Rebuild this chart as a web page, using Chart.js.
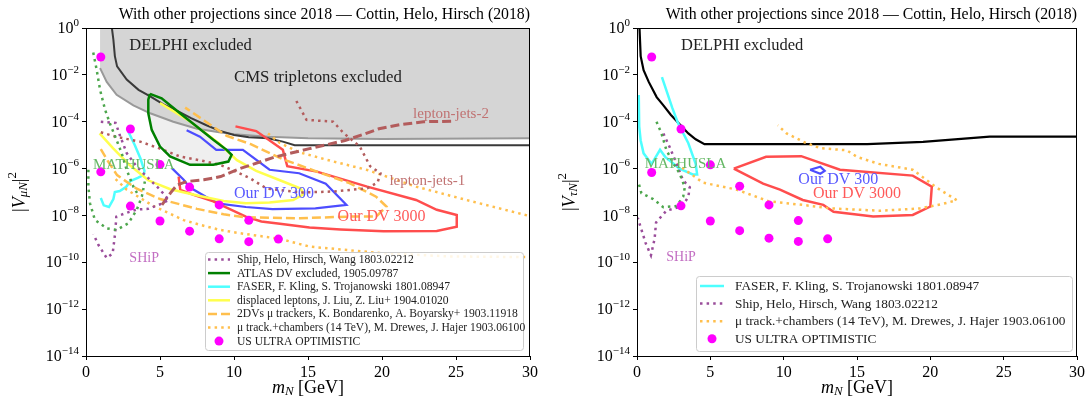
<!DOCTYPE html>
<html>
<head>
<meta charset="utf-8">
<script src="https://cdn.jsdelivr.net/npm/chart.js@4/dist/chart.umd.min.js"></script>
<style>
    html, body { margin: 0; padding: 0; background: #ffffff; }
    #wrap { position: relative; width: 1088px; height: 403px; }
    canvas { position: absolute; top: 0; }
</style>
</head>
<body>
<div id="wrap">
    <canvas id="muChart" width="544" height="403" style="left:0"></canvas>
    <canvas id="tauChart" width="544" height="403" style="left:544px"></canvas>
</div>
<script>
// Every curve is a list of [m_N in GeV, log10 |V|^2] pairs.

const xTickValues = [0, 5, 10, 15, 20, 25, 30];
const yTickExponents = [-14, -12, -10, -8, -6, -4, -2, 0];

const titleText = 'With other projections since 2018 \u2014 Cottin, Helo, Hirsch (2018)';

// US ULTRA OPTIMISTIC points
const optimisticMass = [1, 1, 3, 3, 5, 5, 7, 7, 9, 9, 11, 11, 13];
const optimisticMuExp = [-1.24, -6.14, -4.31, -7.6, -5.83, -8.24, -6.79, -8.67, -7.55, -9.0, -8.21, -9.12, -9.01];
const optimisticTauExp = [-1.24, -6.17, -4.31, -7.59, -5.84, -8.24, -6.75, -8.65, -7.55, -8.97, -8.22, -9.11, -9.0];

// ---- muon panel ----
const cmsMu = [[0.95, -1.71], [1.4, -2.3], [2.07, -2.85], [3.2, -3.3], [4.34, -3.64], [5.9, -4.0], [7.5, -4.3],
    [9, -4.45], [10, -4.53], [12.3, -4.64], [15, -4.71], [20, -4.74], [30, -4.71]];
const delphiMu = [[1.75, 0], [1.85, -0.5], [1.95, -1.2], [2.1, -1.64], [2.75, -2.2], [3.55, -2.64], [4.34, -2.92],
    [5.2, -3.25], [6.2, -3.55], [7.1, -3.85], [8.1, -4.14], [9.0, -4.38], [10, -4.57], [11, -4.66], [12.3, -4.71],
    [13.3, -4.85], [14.1, -5.0], [30, -5.0]];
const atlasDV = [[4.32, -2.81], [5.11, -3.0], [6.35, -3.64], [7.48, -4.2], [8.6, -4.77], [9.5, -5.2], [9.84, -5.41],
    [9.62, -5.7], [8.6, -5.84], [7.03, -5.84], [5.68, -5.48], [5.0, -5.06], [4.44, -4.35], [4.21, -3.64],
    [4.21, -3.06], [4.32, -2.81]];
const dv300Mu = [[6.8, -4.36], [7.7, -4.64], [8.8, -5.2], [10.6, -5.2], [12.4, -6.05], [14.4, -6.2], [16.2, -6.65],
    [17.6, -7.55], [15.5, -7.7], [12.6, -7.73], [10.8, -7.64], [9.0, -7.5], [8.1, -7.2], [7.0, -6.8], [6.6, -6.48],
    [5.8, -5.98]];
const dv3000Mu = [[10.1, -4.2], [11.5, -4.4], [13.3, -5.2], [13.6, -5.9], [15.6, -6.13], [19.0, -6.77], [22.3, -7.34],
    [23.7, -7.76], [25.05, -7.98], [25.05, -8.48], [23.7, -8.66], [20.1, -8.68], [17.2, -8.6], [15.1, -8.52],
    [13.1, -8.36], [11.85, -8.26], [10.8, -8.05], [8.6, -7.4], [7.27, -7.12], [6.37, -6.91], [6.26, -6.34]];
const displacedLeptons = [[5.0, -3.2], [6.9, -3.93], [9.0, -4.93], [10.2, -5.64], [11.5, -6.1], [13.1, -6.5],
    [14.5, -6.85], [14.7, -7.1], [14.0, -7.34], [12.4, -7.45], [10.8, -7.48], [9.3, -7.38], [7.6, -7.16],
    [5.7, -6.88], [4.2, -6.5], [2.95, -5.85], [1.82, -5.13], [0.92, -4.5]];
const faserMu = [[2.88, -4.45], [3.3, -5.0], [3.68, -5.57], [3.95, -6.1], [3.9, -6.27], [3.5, -6.4], [3.0, -6.53],
    [2.72, -6.78], [2.28, -6.96], [1.95, -7.0], [1.85, -7.3], [1.55, -7.64], [1.2, -7.57], [1.0, -7.26]];
const twoDVs = [[1.0, -5.17], [1.5, -5.7], [2.1, -6.28], [3.4, -6.85], [5.0, -7.3], [7.5, -7.72], [9.3, -7.95],
    [10.8, -8.08], [14.46, -8.12], [17.8, -8.05], [19.6, -8.05], [20.3, -7.62], [19.6, -7.2], [17.8, -6.62],
    [15.6, -6.13], [13.3, -5.6], [11.1, -4.95], [9.5, -4.6], [8.1, -4.0], [6.7, -3.4]];
const muChambersUpper = [[12.3, -4.5], [13.1, -4.91], [14.4, -5.3], [16.3, -5.63], [19.0, -6.06], [22.3, -6.77],
    [25.7, -7.34], [30, -8.03]];
const muChambersLower = [[2.0, -6.45], [2.75, -6.9], [4.56, -7.6], [6.6, -8.2], [7.7, -8.4], [9.07, -8.62],
    [10.4, -8.76], [13.1, -9.0], [15.1, -9.33], [19.8, -9.6], [24.5, -9.75], [30, -9.78]];
const shipMu = [[1.0, -4.0], [2.0, -4.05], [2.3, -4.6], [2.75, -5.34], [3.4, -5.9], [4.1, -6.34], [5.0, -6.9],
    [5.6, -7.34], [5.1, -7.5], [4.2, -7.72], [3.4, -7.75], [2.7, -7.9], [2.05, -8.05], [1.97, -8.76], [1.8, -9.62],
    [1.4, -9.82], [0.83, -9.25], [0.5, -8.8]];
const mathuslaMuUpper = [[0.49, -1.05], [0.72, -1.78], [0.95, -2.64], [1.29, -3.49], [1.63, -4.1], [1.97, -4.63],
    [2.41, -5.34], [2.75, -6.06], [3.2, -6.77], [3.5, -7.1]];
const mathuslaMuLower = [[0.16, -6.05], [0.16, -6.77], [0.27, -7.48], [0.6, -8.19], [1.4, -8.55], [2.07, -8.62],
    [2.87, -8.33], [3.43, -7.76], [3.77, -7.2], [4.0, -6.48]];
const leptonJets1 = [[1.0, -4.45], [2.07, -4.65], [3.66, -4.85], [5.0, -5.15], [6.37, -5.49], [7.73, -5.65],
    [9.1, -5.85], [10.2, -6.15], [11.1, -6.42], [12.2, -6.85], [14.5, -7.02], [16.7, -6.98], [19.0, -6.84],
    [19.7, -6.6], [19.9, -6.2], [19.2, -5.9], [18.5, -5.06], [17.4, -4.48], [16.7, -4.0], [14.9, -3.92], [14.2, -3.1]];
const leptonJets2 = [[5.13, -7.55], [5.7, -7.05], [6.15, -6.7], [6.83, -6.55], [7.96, -6.48], [9.1, -6.34],
    [10.4, -6.0], [12.8, -5.5], [15.1, -5.15], [17.5, -4.8], [18.7, -4.55], [19.8, -4.3], [21.2, -4.13],
    [22.8, -4.0], [24.7, -3.98]];

// ---- tau panel ----
const delphiTau = [[0.17, 0], [0.25, -1.2], [0.45, -1.8], [0.8, -2.3], [1.34, -2.95], [1.8, -3.3], [2.3, -3.7],
    [2.97, -4.15], [3.5, -4.5], [4.0, -4.75], [4.6, -4.96], [15.7, -4.96], [19.5, -4.86], [24.05, -4.64], [30, -4.64]];
const faserTau = [[0.12, -2.86], [0.15, -4.2], [0.25, -4.8], [0.45, -5.35], [1.0, -5.8], [1.57, -5.2], [1.92, -5.5],
    [2.9, -6.0], [3.8, -6.25], [4.1, -6.25], [4.0, -5.8], [3.5, -4.92], [2.8, -4.06], [2.4, -3.4], [1.7, -2.1]];
const shipTau = [[1.8, -4.5], [2.24, -5.1], [2.7, -5.8], [3.14, -6.5], [3.6, -6.8], [3.5, -7.2], [3.1, -7.6],
    [2.0, -7.8], [1.3, -8.3], [1.2, -9.0], [0.95, -9.7], [0.6, -9.2], [0.2, -8.4], [0.05, -8.1]];
const mathuslaTau = [[1.33, -4.0], [1.67, -4.5], [2.0, -5.2], [2.5, -5.8], [2.9, -6.2], [3.26, -6.8], [3.15, -7.2],
    [2.7, -7.6], [1.8, -7.65], [1.1, -7.3], [0.3, -7.05], [0.08, -6.55]];
const muChambersTau = [[2.7, -5.8], [4.5, -6.6], [6.8, -6.9], [9.0, -7.4], [11.3, -7.55], [13.2, -7.7], [16.6, -7.8],
    [19.3, -7.7], [20.9, -7.5], [21.8, -7.35], [20.4, -6.8], [18.8, -6.05], [16.5, -5.8], [15.0, -5.5], [14.3, -5.22],
    [12.5, -5.13], [11.5, -4.9], [10.2, -4.5], [9.6, -4.15]];
const dv3000Tau = [[6.6, -6.0], [8.8, -5.5], [11.2, -5.47], [13.84, -6.05], [18.8, -6.3], [20.1, -6.77], [20.0, -7.62],
    [18.8, -7.98], [16.1, -8.05], [13.4, -7.84], [12.7, -7.55], [11.3, -7.34], [9.75, -6.9], [8.6, -6.64], [6.6, -6.0]];
const dv300Tau = [[11.8, -6.05], [12.5, -5.92], [12.8, -6.1], [12.5, -6.22], [11.8, -6.05]];

// ---- styles ----
const DOT = [2.5, 4.1];
const DASH = [9, 4];
const styles = {
    ship: { color: '#9a4d9a', width: 2.5, dash: DOT },
    atlas: { color: '#008000', width: 2.5, dash: [] },
    faser: { color: '#4dffff', width: 2.5, dash: [] },
    displaced: { color: '#ffff4d', width: 2.5, dash: [] },
    twoDVs: { color: '#ffbf4d', width: 2.5, dash: DASH },
    chambers: { color: '#ffbf4d', width: 2.5, dash: DOT },
    mathusla: { color: '#4da64d', width: 2.5, dash: DOT },
    leptonJets: { color: '#b35c5c', width: 2.5 },
    dv300: { color: '#4d4dff', width: 2.2, dash: [] },
    dv3000: { color: '#ff4d4d', width: 2.5, dash: [] }
};

function toPoints(pairs) {
    return pairs.map(p => ({ x: p[0], y: Math.pow(10, p[1]) }));
}

function curve(pairs, style, extra) {
    return Object.assign({
        data: toPoints(pairs),
        borderColor: style.color,
        borderWidth: style.width,
        borderDash: style.dash || [],
        borderCapStyle: 'butt',
        pointRadius: 0,
        fill: false,
        tension: 0,
        order: 5
    }, extra || {});
}

function dots(masses, exps) {
    return {
        type: 'scatter',
        data: masses.map((m, i) => ({ x: m, y: Math.pow(10, exps[i]) })),
        showLine: false,
        pointRadius: 4.5,
        pointBackgroundColor: '#ff00ff',
        pointBorderWidth: 0,
        order: 0
    };
}

const SERIF = '"Liberation Serif", "DejaVu Serif", serif';

function makeDecor(cfg) {
    return {
        id: 'decor',
        beforeDraw(chart) {
            const ctx = chart.ctx;
            ctx.save();
            ctx.fillStyle = '#ffffff';
            ctx.fillRect(0, 0, chart.width, chart.height);
            ctx.restore();
        },
        afterDatasetsDraw(chart) {
            const { ctx, chartArea: a, scales: { x, y } } = chart;
            ctx.save();
            ctx.beginPath();
            ctx.rect(a.left, a.top, a.right - a.left, a.bottom - a.top);
            ctx.clip();
            ctx.textBaseline = 'middle';
            ctx.textAlign = 'left';
            cfg.notes.forEach(n => {
                ctx.font = n.size + 'px ' + SERIF;
                ctx.fillStyle = n.color;
                ctx.fillText(n.text, x.getPixelForValue(n.x), y.getPixelForValue(Math.pow(10, n.exp)));
            });
            ctx.restore();

            // frame
            ctx.save();
            ctx.strokeStyle = '#000';
            ctx.lineWidth = 1;
            ctx.strokeRect(Math.round(a.left) + 0.5, Math.round(a.top) + 0.5,
                Math.round(a.right - a.left) - 1, Math.round(a.bottom - a.top));
            ctx.restore();

            this.drawLegend(chart);
        },
        drawLegend(chart) {
            const ctx = chart.ctx;
            const L = cfg.legend;
            ctx.save();
            ctx.beginPath();
            ctx.roundRect(L.left + 0.5, L.top + 0.5, L.width, L.height, 3);
            ctx.fillStyle = 'rgba(255,255,255,0.85)';
            ctx.fill();
            ctx.strokeStyle = '#cccccc';
            ctx.lineWidth = 1;
            ctx.stroke();
            ctx.font = L.size + 'px ' + SERIF;
            ctx.textBaseline = 'middle';
            ctx.fillStyle = '#222';
            L.items.forEach((it, i) => {
                const cy = L.top + L.firstRow + i * L.rowGap;
                const x0 = L.left + L.handleStart;
                const x1 = x0 + L.handleLen;
                if (it.marker) {
                    ctx.beginPath();
                    ctx.fillStyle = '#ff00ff';
                    ctx.arc((x0 + x1) / 2, cy, 4.5, 0, Math.PI * 2);
                    ctx.fill();
                } else {
                    ctx.beginPath();
                    ctx.strokeStyle = it.style.color;
                    ctx.lineWidth = it.style.width;
                    ctx.setLineDash(it.style.dash || []);
                    ctx.moveTo(x0, cy);
                    ctx.lineTo(x1, cy);
                    ctx.stroke();
                    ctx.setLineDash([]);
                }
                ctx.fillStyle = '#222';
                ctx.fillText(it.text, L.left + L.textStart, cy + 0.5);
            });
            ctx.restore();
        },
        afterDraw(chart) {
            const { ctx, chartArea: a, scales: { y } } = chart;
            ctx.save();
            ctx.fillStyle = '#000';
            ctx.textBaseline = 'middle';

            // y tick labels 10^n
            yTickExponents.forEach(e => {
                const py = y.getPixelForValue(Math.pow(10, e));
                const sup = e === 0 ? '0' : '\u2212' + Math.abs(e);
                ctx.font = '11px ' + SERIF;
                const ws = ctx.measureText(sup).width;
                ctx.font = '16px ' + SERIF;
                const wb = ctx.measureText('10').width;
                const right = a.left - 7;
                ctx.textAlign = 'left';
                ctx.fillText('10', right - ws - wb, py + 1);
                ctx.font = '11px ' + SERIF;
                ctx.fillText(sup, right - ws, py - 5);
            });

            // title
            ctx.font = '15.8px ' + SERIF;
            ctx.textAlign = 'right';
            ctx.fillText(titleText, a.right, 15);

            // x label: m_N [GeV]
            const xc = (a.left + a.right) / 2;
            ctx.font = 'italic 18px ' + SERIF;
            const wm = ctx.measureText('m').width;
            ctx.font = 'italic 13px ' + SERIF;
            const wn = ctx.measureText('N').width;
            ctx.font = '18px ' + SERIF;
            const wg = ctx.measureText(' [GeV]').width;
            let sx = xc - (wm + wn + wg) / 2;
            ctx.textAlign = 'left';
            ctx.font = 'italic 18px ' + SERIF;
            ctx.fillText('m', sx, 388);
            ctx.font = 'italic 13px ' + SERIF;
            ctx.fillText('N', sx + wm, 392);
            ctx.font = '18px ' + SERIF;
            ctx.fillText(' [GeV]', sx + wm + wn, 388);

            // y label |V_{lN}|^2
            ctx.translate(cfg.yLabelX, (a.top + a.bottom) / 2);
            ctx.rotate(-Math.PI / 2);
            const parts = [
                { t: '|', f: '18px ' + SERIF, dy: 0 },
                { t: 'V', f: 'italic 18px ' + SERIF, dy: 0 },
                { t: cfg.flavour + 'N', f: 'italic 13px ' + SERIF, dy: 4 },
                { t: '|', f: '18px ' + SERIF, dy: 0 },
                { t: '2', f: '13px ' + SERIF, dy: -7 }
            ];
            let total = 0;
            parts.forEach(p => { ctx.font = p.f; p.w = ctx.measureText(p.t).width; total += p.w; });
            let px = -total / 2;
            parts.forEach(p => { ctx.font = p.f; ctx.fillText(p.t, px, p.dy); px += p.w; });
            ctx.restore();
        }
    };
}

function buildChart(canvasId, datasets, cfg) {
    return new Chart(document.getElementById(canvasId), {
        type: 'line',
        data: { datasets: datasets },
        options: {
            responsive: false,
            maintainAspectRatio: false,
            animation: false,
            devicePixelRatio: 1,
            events: [],
            layout: { padding: { left: 0, right: cfg.padRight, top: 28, bottom: 0 } },
            plugins: { legend: { display: false }, tooltip: { enabled: false } },
            scales: {
                x: {
                    type: 'linear',
                    min: 0,
                    max: 30,
                    afterBuildTicks: s => { s.ticks = xTickValues.map(v => ({ value: v })); },
                    afterFit: s => { s.height = 47; },
                    border: { display: false },
                    grid: { drawOnChartArea: false, drawTicks: true, tickLength: 4, tickColor: '#000', tickWidth: 1 },
                    ticks: { color: '#000', font: { family: SERIF, size: 16 }, padding: 3, maxRotation: 0 }
                },
                y: {
                    type: 'logarithmic',
                    min: 1e-14,
                    max: 1,
                    afterBuildTicks: s => { s.ticks = yTickExponents.map(e => ({ value: Math.pow(10, e) })); },
                    afterFit: s => { s.width = cfg.axisWidth; },
                    border: { display: false },
                    grid: { drawOnChartArea: false, drawTicks: true, tickLength: 4, tickColor: '#000', tickWidth: 1 },
                    ticks: { callback: () => '', autoSkip: false }
                }
            }
        },
        plugins: [makeDecor(cfg)]
    });
}

// ---- muon panel datasets ----
const muDatasets = [
    { data: toPoints(atlasDV), borderWidth: 0, pointRadius: 0, fill: 'shape', backgroundColor: '#efefef', order: 20 },
    { data: toPoints(cmsMu), borderColor: '#999999', borderWidth: 2, pointRadius: 0, fill: 'end',
        backgroundColor: '#d5d5d5', order: 15 },
    curve(delphiMu, { color: '#3a3a3a', width: 2 }, { order: 14 }),
    curve(mathuslaMuUpper, styles.mathusla),
    curve(mathuslaMuLower, styles.mathusla),
    curve(shipMu, styles.ship),
    curve(leptonJets1, Object.assign({}, styles.leptonJets, { dash: DOT })),
    curve(leptonJets2, Object.assign({}, styles.leptonJets, { dash: DASH, width: 3 })),
    curve(muChambersUpper, styles.chambers),
    curve(muChambersLower, styles.chambers),
    curve(twoDVs, styles.twoDVs),
    curve(displacedLeptons, styles.displaced),
    curve(faserMu, styles.faser),
    curve(dv3000Mu, styles.dv3000),
    curve(dv300Mu, styles.dv300),
    curve(atlasDV, styles.atlas, { order: 2 }),
    dots(optimisticMass, optimisticMuExp)
];

const muConfig = {
    padRight: 14,
    axisWidth: 86,
    yLabelX: 20,
    flavour: '\u03bc',
    notes: [
        { text: 'DELPHI excluded', x: 2.93, exp: -0.74, size: 16.5, color: '#222' },
        { text: 'CMS tripletons excluded', x: 10.0, exp: -2.1, size: 16.8, color: '#222' },
        { text: 'lepton-jets-2', x: 22.1, exp: -3.69, size: 15, color: '#c07272' },
        { text: 'lepton-jets-1', x: 20.5, exp: -6.54, size: 15, color: '#c07272' },
        { text: 'MATHUSLA', x: 0.47, exp: -5.86, size: 15, color: '#66b866' },
        { text: 'Our DV 300', x: 10.0, exp: -7.07, size: 16, color: '#5a5aff' },
        { text: 'Our DV 3000', x: 17.0, exp: -8.07, size: 16, color: '#ff5a5a' },
        { text: 'SHiP', x: 2.93, exp: -9.83, size: 14, color: '#c26ec2' }
    ],
    legend: {
        left: 205, top: 252, width: 318, height: 98, size: 11.6,
        firstRow: 7.5, rowGap: 13.6, handleStart: 3, handleLen: 22, textStart: 32,
        items: [
            { text: 'Ship, Helo, Hirsch, Wang 1803.02212', style: styles.ship },
            { text: 'ATLAS DV excluded, 1905.09787', style: styles.atlas },
            { text: 'FASER, F. Kling, S. Trojanowski 1801.08947', style: styles.faser },
            { text: 'displaced leptons, J. Liu, Z. Liu+ 1904.01020', style: styles.displaced },
            { text: '2DVs \u03bc trackers, K. Bondarenko, A. Boyarsky+ 1903.11918', style: styles.twoDVs },
            { text: '\u03bc track.+chambers (14 TeV), M. Drewes, J. Hajer 1903.06100', style: styles.chambers },
            { text: 'US ULTRA OPTIMISTIC', marker: true }
        ]
    }
};

// ---- tau panel datasets ----
const tauDatasets = [
    curve(delphiTau, { color: '#000000', width: 2.2 }, { order: 14 }),
    curve(mathuslaTau, styles.mathusla),
    curve(shipTau, styles.ship),
    curve(muChambersTau, styles.chambers),
    curve(faserTau, styles.faser),
    curve(dv3000Tau, styles.dv3000),
    curve(dv300Tau, styles.dv300),
    dots(optimisticMass, optimisticTauExp)
];

const tauConfig = {
    padRight: 11,
    axisWidth: 93,
    yLabelX: 26,
    flavour: '\u03c4',
    notes: [
        { text: 'DELPHI excluded', x: 3.0, exp: -0.74, size: 16.5, color: '#222' },
        { text: 'MATHUSLA', x: 0.52, exp: -5.79, size: 15, color: '#66b866' },
        { text: 'Our DV 300', x: 11.0, exp: -6.5, size: 16, color: '#5a5aff' },
        { text: 'Our DV 3000', x: 12.0, exp: -7.07, size: 16, color: '#ff5a5a' },
        { text: 'SHiP', x: 2.0, exp: -9.79, size: 14, color: '#c26ec2' }
    ],
    legend: {
        left: 152, top: 276, width: 376, height: 75, size: 13.3,
        firstRow: 10, rowGap: 17.6, handleStart: 4, handleLen: 24, textStart: 39,
        items: [
            { text: 'FASER, F. Kling, S. Trojanowski 1801.08947', style: styles.faser },
            { text: 'Ship, Helo, Hirsch, Wang 1803.02212', style: styles.ship },
            { text: '\u03bc track.+chambers (14 TeV), M. Drewes, J. Hajer 1903.06100', style: styles.chambers },
            { text: 'US ULTRA OPTIMISTIC', marker: true }
        ]
    }
};

document.addEventListener('DOMContentLoaded', function () {
    window.muChart = buildChart('muChart', muDatasets, muConfig);
    window.tauChart = buildChart('tauChart', tauDatasets, tauConfig);
});
</script>
</body>
</html>
